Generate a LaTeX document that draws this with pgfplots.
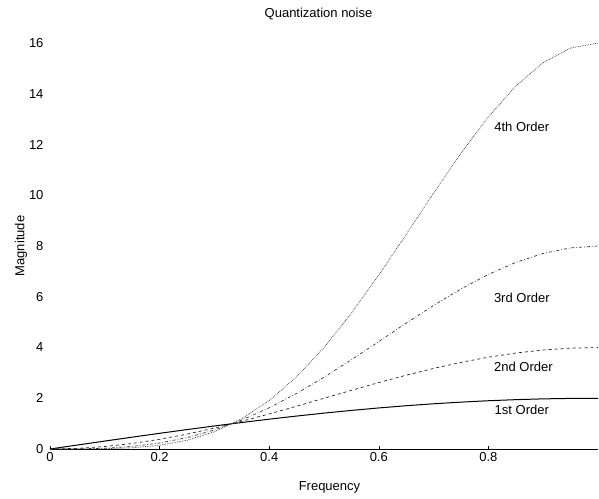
\documentclass[border=0pt]{standalone}
\usepackage{pgfplots}
\pgfplotsset{compat=1.18}
\usepackage{fontspec}
\setmainfont{Liberation Sans}
\setsansfont{Liberation Sans}

\begin{document}
\begin{tikzpicture}
\useasboundingbox (-50pt,-49pt) rectangle (549pt,449pt);
\begin{axis}[
  anchor=origin, at={(0pt,0pt)},
  width=548pt, height=406pt, scale only axis,
  xmin=0, xmax=1, ymin=0, ymax=16,
  xtick={0,0.2,0.4,0.6,0.8},
  xticklabels={0,0.2,0.4,0.6,0.8},
  ytick={0,2,4,6,8,10,12,14,16},
  axis x line*=bottom, axis y line*=left,
  y axis line style={draw=none},
  x axis line style={-, line width=1pt},
  tick align=inside, major tick length=3pt,
  tick style={black, thin},
  ytick style={draw=none},
  yticklabel style={xshift=-3pt},
  font=\fontsize{13}{15}\selectfont,
  tick label style={font=\fontsize{13}{15}\selectfont},
  /pgf/number format/assume math mode=true,
  title={Quantization noise},
  title style={at={(axis description cs:0.49,1.071)}, anchor=center, yshift=-6pt},
  xlabel={Frequency},
  xlabel style={at={(axis description cs:0.51,-0.094)}, anchor=center},
  ylabel={Magnitude},
  ylabel style={at={(axis description cs:-0.053,0.5)}, anchor=center, rotate=0},
  clip=false,
]
\addplot[black, line width=1pt] coordinates {
(0,0) (0.05,0.156918) (0.1,0.312869) (0.15,0.466891) (0.2,0.618034) (0.25,0.765367)
(0.3,0.907981) (0.35,1.044998) (0.4,1.175571) (0.45,1.298896) (0.5,1.414214)
(0.55,1.520812) (0.6,1.618034) (0.65,1.705280) (0.7,1.782013) (0.75,1.847759)
(0.8,1.902113) (0.85,1.944740) (0.9,1.975377) (0.95,1.993835) (1,2)};
\addplot[black!85, line width=0.7pt, dashed] coordinates {
(0,0) (0.05,0.024623) (0.1,0.097887) (0.15,0.217987) (0.2,0.381966) (0.25,0.585786)
(0.3,0.824429) (0.35,1.092021) (0.4,1.381966) (0.45,1.687131) (0.5,2.0)
(0.55,2.312869) (0.6,2.618034) (0.65,2.907980) (0.7,3.175571) (0.75,3.414214)
(0.8,3.618034) (0.85,3.781914) (0.9,3.902113) (0.95,3.975377) (1,4)};
\addplot[black!80, line width=0.7pt, dash dot] coordinates {
(0,0) (0.05,0.003864) (0.1,0.030626) (0.15,0.101776) (0.2,0.236068) (0.25,0.448342)
(0.3,0.748565) (0.35,1.141160) (0.4,1.624598) (0.45,2.191408) (0.5,2.828427)
(0.55,3.517439) (0.6,4.236068) (0.65,4.958920) (0.7,5.658907) (0.75,6.308645)
(0.8,6.881910) (0.85,7.354840) (0.9,7.708144) (0.95,7.926246) (1,8)};
\addplot[black!80, line width=0.7pt, densely dotted] coordinates {
(0,0) (0.05,0.000606) (0.1,0.009582) (0.15,0.047518) (0.2,0.145898) (0.25,0.343146)
(0.3,0.679683) (0.35,1.192510) (0.4,1.909830) (0.45,2.846411) (0.5,4)
(0.55,5.349363) (0.6,6.854102) (0.65,8.456348) (0.7,10.084251) (0.75,11.656854)
(0.8,13.090170) (0.85,14.302873) (0.9,15.226486) (0.95,15.803622) (1,16)};
\node[font=\fontsize{13}{15}\selectfont] at (axis cs:0.861,12.7) {4th Order};
\node[font=\fontsize{13}{15}\selectfont] at (axis cs:0.861,5.96) {3rd Order};
\node[font=\fontsize{13}{15}\selectfont] at (axis cs:0.864,3.22) {2nd Order};
\node[font=\fontsize{13}{15}\selectfont] at (axis cs:0.861,1.53) {1st Order};
\end{axis}
\end{tikzpicture}
\end{document}
